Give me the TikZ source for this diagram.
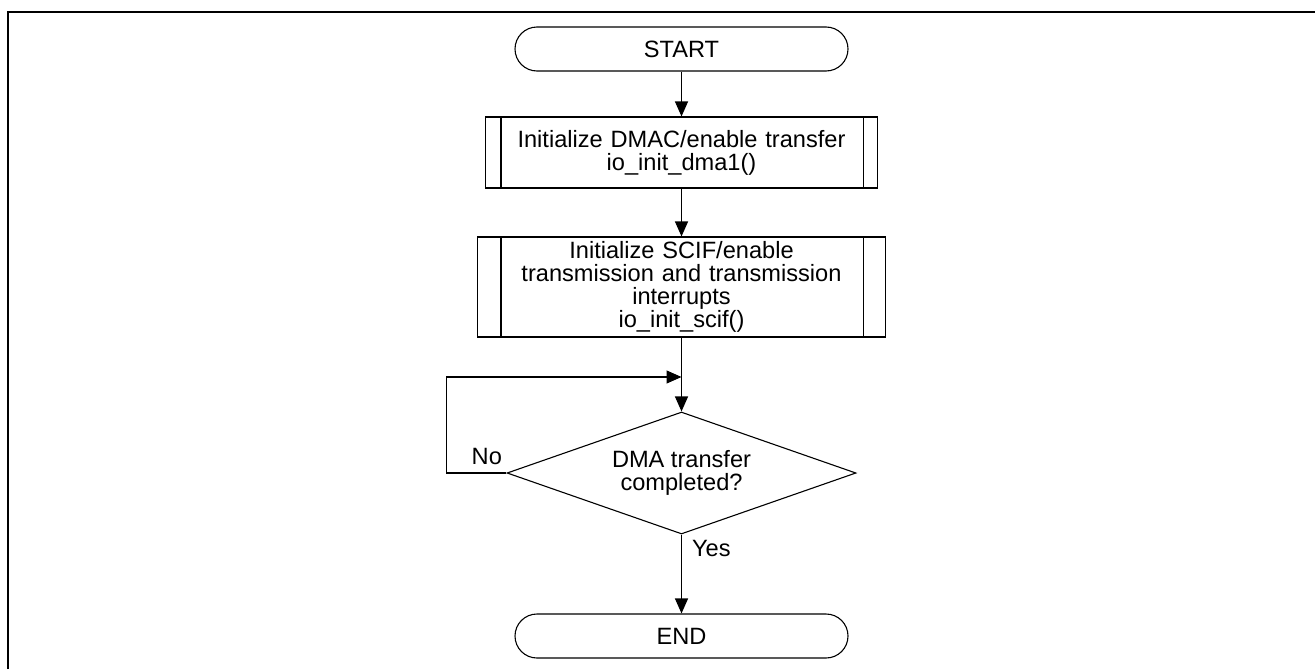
\documentclass[tikz,border=0pt]{standalone}
\usepackage{fontspec}
\setmainfont{Liberation Sans}
\usetikzlibrary{shapes,arrows.meta}
\tikzstyle{terminal} = [rectangle, draw, rounded corners=11pt,
    minimum width=166.5pt, minimum height=22pt, inner sep=0pt]
\tikzstyle{block} = [rectangle, draw, text width=180pt, align=center,
    inner sep=0pt]
\tikzstyle{decision} = [diamond, draw, aspect=2.86, align=center,
    minimum width=174.5pt, minimum height=61pt, inner sep=0pt]
\tikzstyle{line} = [draw, -{Triangle[length=7.5pt,width=6.5pt]}]

\begin{document}
\begin{tikzpicture}[x=0.5pt, y=-0.5pt, line width=0.55pt,
    every node/.style={font=\fontsize{11.8}{11.6}\selectfont}]
    \useasboundingbox (0,0) rectangle (1315,669);
    % Frame
    \draw [line width=1pt] (8,669) -- (8,12) -- (1315,12);

    % Place nodes
    \node [terminal] at (681.5,49) (start) {START};
    \node [block, below of=start, node distance=51.75pt,
        minimum width=196pt, minimum height=35.5pt] (initdma)
        {Initialize DMAC/enable transfer\\ io\_init\_dma1()};
    \node [block, below of=initdma, node distance=67.25pt,
        minimum width=204pt, minimum height=50pt] (initscif)
        {Initialize SCIF/enable\\ transmission and transmission\\ interrupts\\ io\_init\_scif()};
    \node [decision, below of=initscif, node distance=93pt] (dmadone)
        {DMA transfer\\ completed?};
    \node [terminal, below of=dmadone, node distance=81.5pt] (end) {END};
    \coordinate [below of=initscif, node distance=45pt] (join);

    % Inner lines of the subroutine boxes
    \draw ([xshift=8pt]initdma.north west) -- ([xshift=8pt]initdma.south west);
    \draw ([xshift=-7.5pt]initdma.north east) -- ([xshift=-7.5pt]initdma.south east);
    \draw ([xshift=12pt]initscif.north west) -- ([xshift=12pt]initscif.south west);
    \draw ([xshift=-11.5pt]initscif.north east) -- ([xshift=-11.5pt]initscif.south east);

    % Draw edges
    \path [line] (start) -- (initdma);
    \path [line] (initdma) -- (initscif);
    \path [line] (initscif) -- (dmadone);
    \path [line] (dmadone.west) -- ++(-30pt,0) |- (join);
    \path [line] (dmadone) -- (end);

    \node [anchor=south east, inner sep=0pt] at ([xshift=-2pt,yshift=4pt]dmadone.west) (no) {No};
    \node [anchor=north west, inner sep=0pt] at ([xshift=5pt,yshift=-2.5pt]dmadone.south) (yes) {Yes};
\end{tikzpicture}
\end{document}
